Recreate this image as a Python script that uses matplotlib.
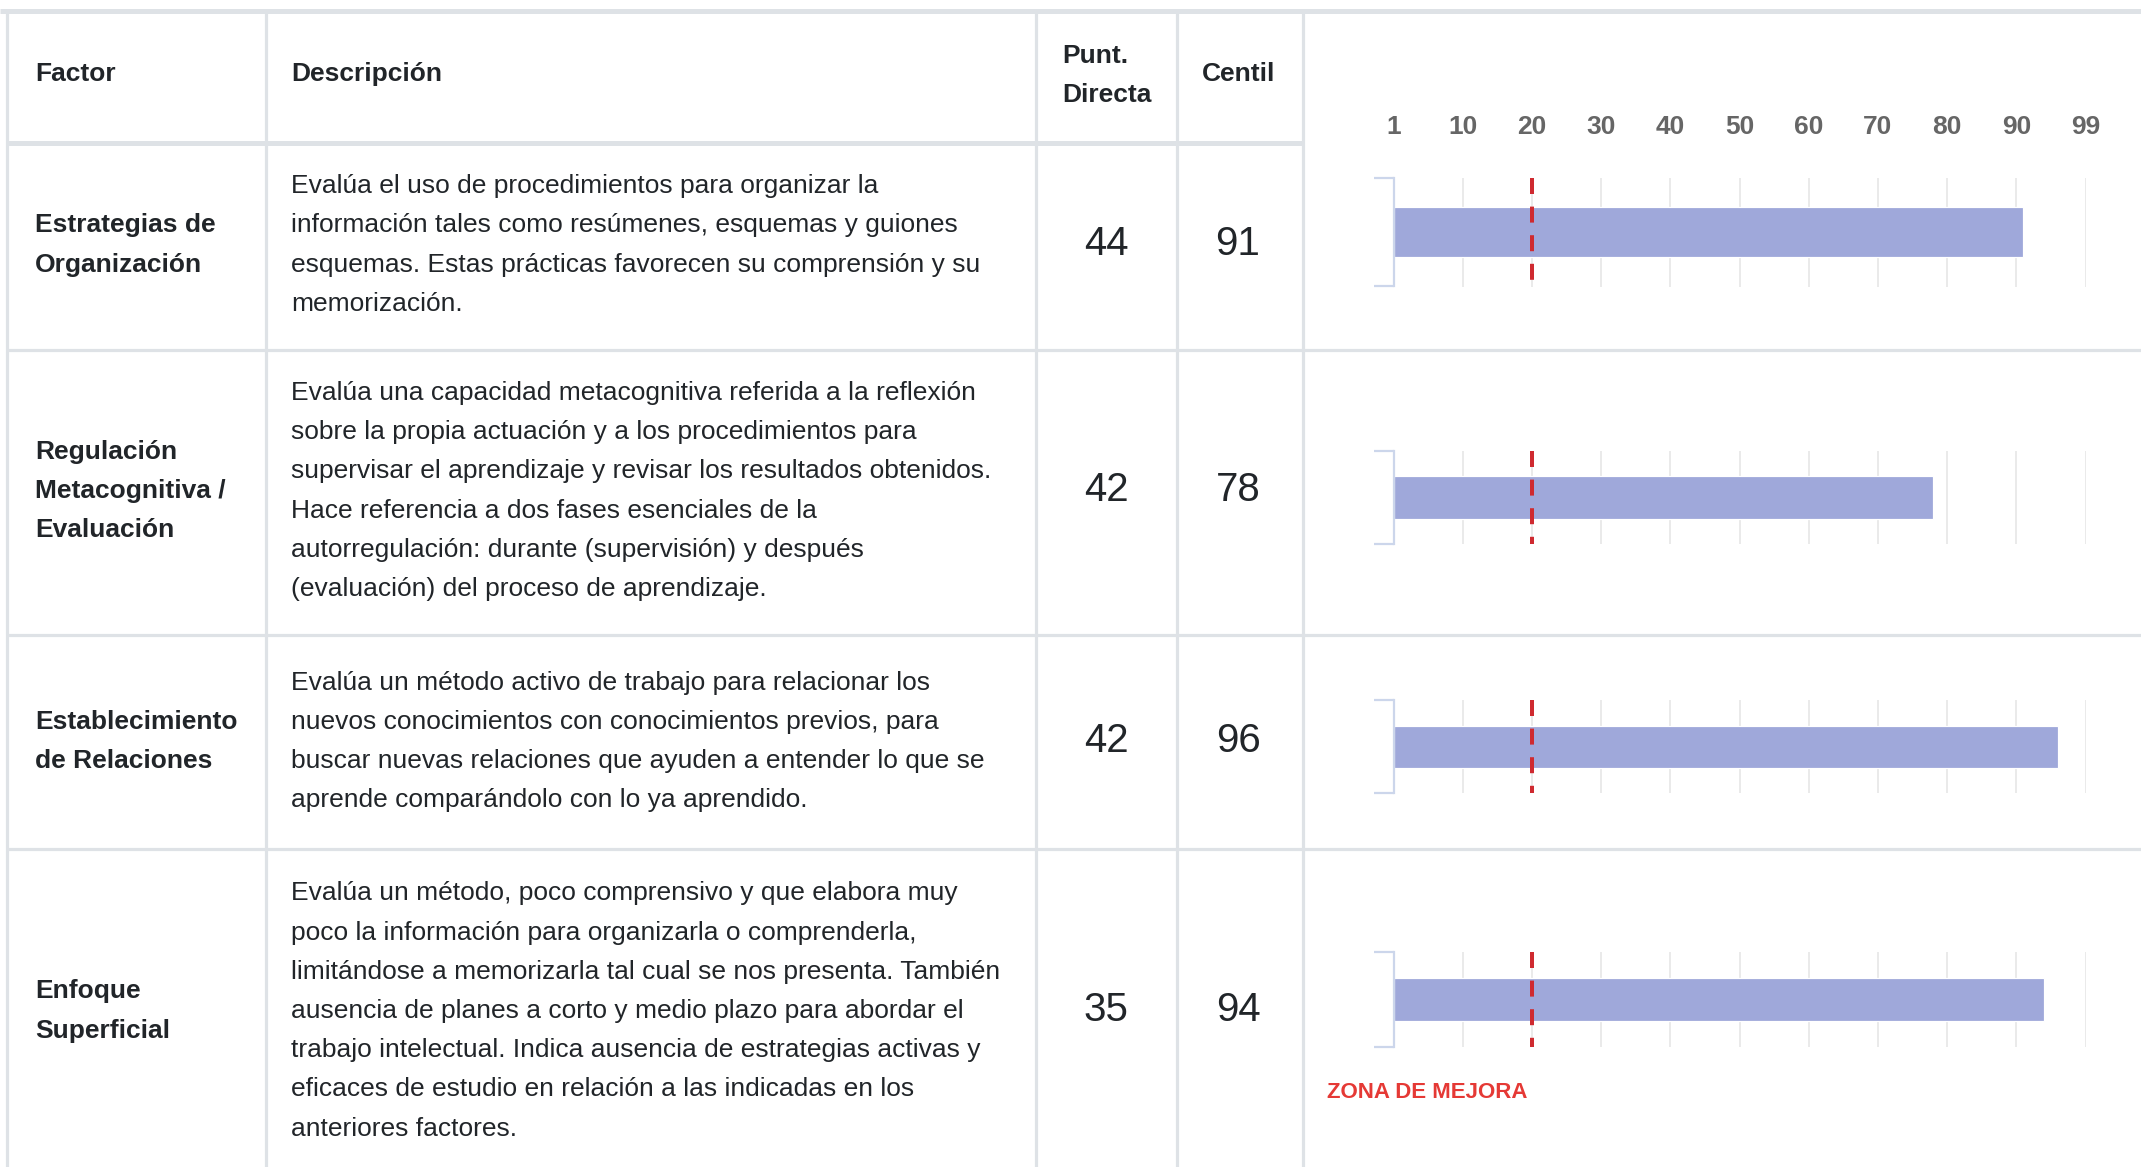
import matplotlib
matplotlib.use("Agg")
import matplotlib.pyplot as plt

plt.rcParams['font.family'] = ['Liberation Sans', 'DejaVu Sans']

# ---------------- data ----------------
headers = ["Factor", "Descripción", "Punt.\nDirecta", "Centil"]
factors = [
    "Estrategias de\nOrganización",
    "Regulación\nMetacognitiva /\nEvaluación",
    "Establecimiento\nde Relaciones",
    "Enfoque\nSuperficial",
]
descriptions = [
    ["Evalúa el uso de procedimientos para organizar la",
     "información tales como resúmenes, esquemas y guiones",
     "esquemas. Estas prácticas favorecen su comprensión y su",
     "memorización."],
    ["Evalúa una capacidad metacognitiva referida a la reflexión",
     "sobre la propia actuación y a los procedimientos para",
     "supervisar el aprendizaje y revisar los resultados obtenidos.",
     "Hace referencia a dos fases esenciales de la",
     "autorregulación: durante (supervisión) y después",
     "(evaluación) del proceso de aprendizaje."],
    ["Evalúa un método activo de trabajo para relacionar los",
     "nuevos conocimientos con conocimientos previos, para",
     "buscar nuevas relaciones que ayuden a entender lo que se",
     "aprende comparándolo con lo ya aprendido."],
    ["Evalúa un método, poco comprensivo y que elabora muy",
     "poco la información para organizarla o comprenderla,",
     "limitándose a memorizarla tal cual se nos presenta. También",
     "ausencia de planes a corto y medio plazo para abordar el",
     "trabajo intelectual. Indica ausencia de estrategias activas y",
     "eficaces de estudio en relación a las indicadas en los",
     "anteriores factores."],
]
punt_directa = [44, 42, 42, 35]
centil = [91, 78, 96, 94]
tick_values = [0, 10, 20, 30, 40, 50, 60, 70, 80, 90, 100]
tick_labels = ["1", "10", "20", "30", "40", "50", "60", "70", "80", "90", "99"]
zona_mejora_centil = 20
zona_label = "ZONA DE MEJORA"

# ---------------- layout (pixels) ----------------
W, H = 2141, 1167
DPI = 100
line_c = '#dee2e6'
text_c = '#212529'
bar_c = '#9fa8da'
axis_c = '#ccd6eb'
grid_c = '#e6e6e6'
red_c = '#cf2a30'

col_x = [7, 266, 1035.5, 1176.5, 1302.5]
top_y = 10.5
hdr_y = 142.5
row_y = [142.5, 350, 634.5, 849, 1167]
text_centers = [245, 491, 741.5, 1011]
chart_y = [(177.5, 286.5), (450.7, 544.3), (700.4, 793.3), (951.7, 1047.0)]
chart_x0, chart_x1 = 1393.5, 2085.5
line_sp = 39.2

fig = plt.figure(figsize=(W / DPI, H / DPI), dpi=DPI)
bg = fig.add_axes([0, 0, 1, 1])
bg.set_xlim(0, W)
bg.set_ylim(H, 0)
bg.axis('off')

px = 72 / DPI  # points per pixel

# borders
bg.plot([0, W], [top_y, top_y], color=line_c, lw=5 * px, solid_capstyle='butt')
bg.plot([col_x[0], col_x[-1]], [hdr_y, hdr_y], color=line_c, lw=5 * px, solid_capstyle='butt')
for y in row_y[1:-1]:
    bg.plot([col_x[0], W], [y, y], color=line_c, lw=3.2 * px, solid_capstyle='butt')
for x in col_x:
    bg.plot([x, x], [top_y, H], color=line_c, lw=3.2 * px, solid_capstyle='butt')

# header texts
fs = 19
bg.text(35, 74, headers[0], fontsize=fs, fontweight='bold', color=text_c, va='center', ha='left')
bg.text(291, 74, headers[1], fontsize=fs, fontweight='bold', color=text_c, va='center', ha='left')
for i, ln in enumerate(headers[2].split("\n")):
    bg.text(1062, 56 + i * 38.5, ln, fontsize=fs, fontweight='bold', color=text_c, va='center', ha='left')
bg.text(1239, 74, headers[3], fontsize=fs, fontweight='bold', color=text_c, va='center', ha='center')

# body texts
for r in range(4):
    cy = text_centers[r]
    flines = factors[r].split("\n")
    n = len(flines)
    for i, ln in enumerate(flines):
        bg.text(35, cy + (i - (n - 1) / 2) * line_sp, ln, fontsize=fs, fontweight='bold',
                color=text_c, va='center', ha='left')
    dl = descriptions[r]
    n = len(dl)
    for i, ln in enumerate(dl):
        bg.text(291, cy + (i - (n - 1) / 2) * line_sp, ln, fontsize=fs,
                color=text_c, va='center', ha='left')
    bg.text(1106, cy - 1, str(punt_directa[r]), fontsize=29, color=text_c, va='center', ha='center')
    bg.text(1238, cy - 1, str(centil[r]), fontsize=29, color=text_c, va='center', ha='center')

# charts
for r in range(4):
    y0, y1 = chart_y[r]
    ax = fig.add_axes([chart_x0 / W, 1 - y1 / H, (chart_x1 - chart_x0) / W, (y1 - y0) / H])
    ax.set_xlim(0, 100)
    ax.set_ylim(-0.5, 0.5)
    ax.set_facecolor('none')
    for s in ['top', 'right', 'bottom']:
        ax.spines[s].set_visible(False)
    ax.spines['left'].set_color(axis_c)
    ax.spines['left'].set_linewidth(2.2 * px)
    ax.spines['left'].set_zorder(5)
    ax.set_yticks([-0.5, 0.5])
    ax.set_yticklabels([])
    ax.tick_params(axis='y', length=20 * px, width=2.2 * px, color=axis_c, direction='out')
    ax.set_xticks(tick_values)
    ax.grid(axis='x', color=grid_c, lw=1.6 * px, zorder=0)
    ax.set_axisbelow(True)
    if r == 0:
        ax.xaxis.tick_top()
        ax.set_xticklabels(tick_labels, fontsize=19, fontweight='bold', color='#666666')
        ax.tick_params(axis='x', length=0, pad=28)
    else:
        ax.set_xticklabels([])
        ax.tick_params(axis='x', length=0)
    ax.barh([0], [centil[r]], height=0.455, color=bar_c, edgecolor='white', lw=1.2 * px, zorder=3)
    ax.plot([zona_mejora_centil, zona_mejora_centil], [0.5, -0.5], color=red_c, lw=4 * px,
            linestyle=(0, (4.0, 3.15)), zorder=4, clip_on=False)

bg.text(1327, 1093, zona_label, fontsize=16, fontweight='bold', color='#e53935', va='center', ha='left')

fig.savefig("out.png", dpi=DPI)
